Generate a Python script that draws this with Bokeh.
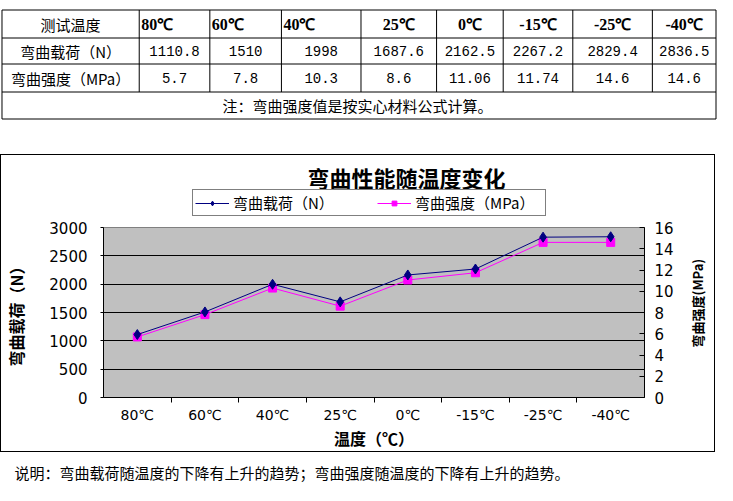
import numpy as np
from bokeh.plotting import figure
from bokeh.models import Range1d, LinearAxis, FixedTicker, Legend, LegendItem, InlineStyleSheet
from bokeh.layouts import column, row
from bokeh.embed import file_html
from bokeh.resources import INLINE
from bokeh.core.properties import value

# ---------------- data ----------------
temps = ["80℃", "60℃", "40℃", "25℃", "0℃", "-15℃", "-25℃", "-40℃"]
load = [1110.8, 1510, 1998, 1687.6, 2162.5, 2267.2, 2829.4, 2836.5]
strength = [5.7, 7.8, 10.3, 8.6, 11.06, 11.74, 14.6, 14.6]
load_text = ["1110.8", "1510", "1998", "1687.6", "2162.5", "2267.2", "2829.4", "2836.5"]
strength_text = ["5.7", "7.8", "10.3", "8.6", "11.06", "11.74", "14.6", "14.6"]
row_names = ["测试温度", "弯曲载荷（N）", "弯曲强度（MPa）"]
note = "注：弯曲强度值是按实心材料公式计算。"
chart_title = "弯曲性能随温度变化"
caption = "说明：弯曲载荷随温度的下降有上升的趋势；弯曲强度随温度的下降有上升的趋势。"
load_name = "弯曲载荷（N）"
strength_name = "弯曲强度（MPa）"
x_title = "温度（℃）"
y_title = "弯曲载荷（N）"
y2_title = "弯曲强度(MPa)"
load_ticks = [0, 500, 1000, 1500, 2000, 2500, 3000]
strength_ticks = [0, 2, 4, 6, 8, 10, 12, 14, 16]

CJK = "Noto Sans CJK SC"
W = 717
NAVY = "#000080"
MAGENTA = "#FF00FF"
NAN = [float("nan")]

# ---------------- table ----------------
col_edges = [4.5, 142.5, 213.5, 285.5, 365.5, 441.5, 508.5, 578.5, 658.5, 722.5]
row_edges = [9.5, 37.5, 63.5, 91.5, 118.5]

tbl = figure(width=W, height=154, x_range=Range1d(3, 724), y_range=Range1d(154, 0),
             output_backend="svg", toolbar_location=None, min_border=0, frame_align=False)
tbl.axis.visible = False
tbl.grid.visible = False
tbl.outline_line_color = None

hx0 = [col_edges[0]] * len(row_edges)
hx1 = [col_edges[-1]] * len(row_edges)
tbl.segment(x0=hx0, x1=hx1, y0=row_edges, y1=row_edges, line_color="black", line_width=1)
vx = col_edges
vy0 = [row_edges[0]] * len(vx)
vy1 = [row_edges[-1] if i in (0, len(vx) - 1) else row_edges[3] for i in range(len(vx))]
tbl.segment(x0=vx, x1=vx, y0=vy0, y1=vy1, line_color="black", line_width=1)

row_c = [(row_edges[i] + row_edges[i + 1]) / 2 for i in range(4)]
col_c = [(col_edges[i] + col_edges[i + 1]) / 2 for i in range(len(col_edges) - 1)]

tbl.text(x=[col_c[0]] * 3, y=row_c[:3], text=row_names, text_align="center", text_baseline="middle",
         text_font=value(CJK), text_font_size="15px", text_color="black")
left_idx = [0, 1, 2]
ctr_idx = [3, 4, 5, 6, 7]
tbl.text(x=[col_edges[i + 1] + 2 for i in left_idx], y=[row_c[0]] * 3, text=[temps[i] for i in left_idx],
         text_align="left", text_baseline="middle", text_font=value("Liberation Serif"),
         text_font_style="bold", text_font_size="16px", text_color="black")
tbl.text(x=[col_c[i + 1] for i in ctr_idx], y=[row_c[0]] * 5, text=[temps[i] for i in ctr_idx],
         text_align="center", text_baseline="middle", text_font=value("Liberation Serif"),
         text_font_style="bold", text_font_size="16px", text_color="black")
tbl.text(x=col_c[1:], y=[row_c[1]] * 8, text=load_text, text_align="center", text_baseline="middle",
         text_font=value("Liberation Mono"), text_font_size="14px", text_color="black")
tbl.text(x=col_c[1:], y=[row_c[2]] * 8, text=strength_text, text_align="center", text_baseline="middle",
         text_font=value("Liberation Mono"), text_font_size="14px", text_color="black")
tbl.text(x=[362], y=[row_c[3]], text=[note], text_align="center", text_baseline="middle",
         text_font=value(CJK), text_font_size="15px", text_color="black")

# ---------------- chart header (title + legend, inside the chart box) ----------------
hdr = figure(width=W - 2, height=63, x_range=Range1d(1, 716), y_range=Range1d(218, 155),
             output_backend="svg", toolbar_location=None, min_border=0, frame_align=False)
hdr.stylesheets = [InlineStyleSheet(css=":host { border: 1px solid black; border-bottom: none; }")]
hdr.axis.visible = False
hdr.grid.visible = False
hdr.outline_line_color = None
hdr.text(x=[406], y=[176], text=[chart_title], text_align="center", text_baseline="middle",
         text_font=value(CJK), text_font_size="22px", text_font_style="bold", text_color="black")
kl = hdr.line(x=NAN, y=NAN, line_color=NAVY, line_width=1)
km = hdr.scatter(x=NAN, y=NAN, marker="diamond", size=10, fill_color=NAVY, line_color=NAVY)
sl = hdr.line(x=NAN, y=NAN, line_color=MAGENTA, line_width=1)
sm = hdr.scatter(x=NAN, y=NAN, marker="square", size=8, fill_color=MAGENTA, line_color=MAGENTA)
leg = Legend(items=[LegendItem(label=load_name, renderers=[kl, km]),
                    LegendItem(label=strength_name, renderers=[sl, sm])],
             orientation="horizontal", location=(191, 2))
leg.border_line_color = "black"
leg.border_line_width = 1
leg.background_fill_color = "white"
leg.background_fill_alpha = 1
leg.label_text_font = CJK
leg.label_text_font_size = "15px"
leg.label_text_color = "black"
leg.glyph_width = 34
leg.glyph_height = 12
leg.label_height = 12
leg.label_width = 128
leg.label_standoff = 4
leg.spacing = 16
leg.padding = 2
leg.margin = 0
hdr.add_layout(leg)

# ---------------- chart ----------------
xs = list(range(1, len(temps) + 1))
p = figure(width=W - 2 - 40, height=235, x_range=Range1d(0.5, len(temps) + 0.5), y_range=Range1d(0, 3000),
           output_backend="svg", toolbar_location=None, frame_align=False,
           min_border_left=99, min_border_right=32, min_border_top=10, min_border_bottom=55)
p.stylesheets = [InlineStyleSheet(css=":host { border-left: 1px solid black; border-bottom: 1px solid black; }")]
p.background_fill_color = "#C0C0C0"
p.border_fill_color = "white"
p.outline_line_color = "#808080"
p.xgrid.visible = False
p.ygrid.grid_line_color = "black"
p.ygrid.grid_line_width = 1

xa = p.xaxis[0]
xa.ticker = FixedTicker(ticks=xs, minor_ticks=[x + 0.5 for x in xs[:-1]])
xa.major_label_overrides = {x: t for x, t in zip(xs, temps)}
xa.major_tick_line_color = None
xa.minor_tick_line_color = "black"
xa.minor_tick_in = 0
xa.minor_tick_out = 5
xa.axis_line_color = "black"
xa.major_label_text_font = "DejaVu Sans"
xa.major_label_text_font_size = "14px"
xa.major_label_text_color = "black"
xa.major_label_standoff = 3
xa.axis_label = x_title
xa.axis_label_text_font = CJK
xa.axis_label_text_font_size = "16px"
xa.axis_label_text_font_style = "bold"
xa.axis_label_text_color = "black"
xa.axis_label_standoff = 0

ya = p.yaxis[0]
ya.ticker = FixedTicker(ticks=load_ticks)
ya.axis_line_color = "black"
ya.major_tick_line_color = "black"
ya.major_tick_in = 0
ya.major_tick_out = 3
ya.minor_tick_line_color = None
ya.major_label_text_font = "DejaVu Sans"
ya.major_label_text_font_size = "15px"
ya.major_label_text_color = "black"
ya.major_label_standoff = 13
ya.axis_label = y_title
ya.axis_label_text_font = CJK
ya.axis_label_text_font_size = "16px"
ya.axis_label_text_font_style = "bold"
ya.axis_label_text_color = "black"
ya.axis_label_standoff = 18

p.extra_y_ranges = {"s": Range1d(0, 16)}
ya2 = LinearAxis(y_range_name="s", ticker=FixedTicker(ticks=strength_ticks))
ya2.axis_line_color = "black"
ya2.major_tick_line_color = "black"
ya2.major_tick_in = 5
ya2.major_tick_out = 0
ya2.minor_tick_line_color = None
ya2.major_label_text_font = "DejaVu Sans"
ya2.major_label_text_font_size = "15px"
ya2.major_label_text_color = "black"
ya2.major_label_standoff = 10
p.add_layout(ya2, "right")

p.line(xs, strength, y_range_name="s", line_color=MAGENTA, line_width=1)
p.scatter(xs, strength, y_range_name="s", marker="square", size=8, fill_color=MAGENTA, line_color=MAGENTA)
p.line(xs, load, line_color=NAVY, line_width=1)
p.scatter(xs, load, marker="diamond", size=10, fill_color=NAVY, line_color=NAVY)

# right-hand axis title strip (reads bottom-to-top as in the original)
strip = figure(width=40, height=235, x_range=Range1d(677, 717), y_range=Range1d(454, 218),
               output_backend="svg", toolbar_location=None, min_border=0, frame_align=False)
strip.stylesheets = [InlineStyleSheet(css=":host { border-right: 1px solid black; border-bottom: 1px solid black; }")]
strip.axis.visible = False
strip.grid.visible = False
strip.outline_line_color = None
strip.text(x=[699], y=[304], text=[y2_title], angle=np.pi / 2, text_align="center", text_baseline="middle",
           text_font=value(CJK), text_font_size="13px", text_font_style="bold", text_color="black")

# ---------------- caption ----------------
cap = figure(width=W, height=31, x_range=Range1d(3, 724), y_range=Range1d(485, 454),
             output_backend="svg", toolbar_location=None, min_border=0, frame_align=False)
cap.axis.visible = False
cap.grid.visible = False
cap.outline_line_color = None
cap.text(x=[17], y=[474], text=[caption], text_align="left", text_baseline="middle",
         text_font=value(CJK), text_font_size="15px", text_color="black")

layout = column(tbl, hdr, row(p, strip), cap)
open("out.html", "w").write(file_html(layout, INLINE))
